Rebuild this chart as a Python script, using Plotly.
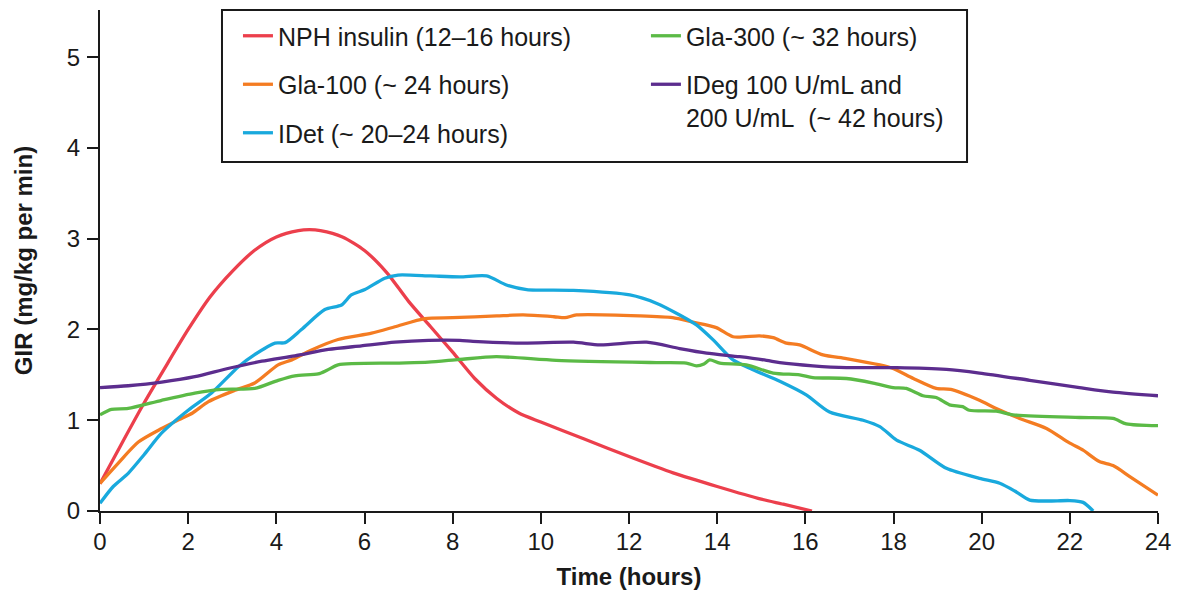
import plotly.graph_objects as go

# ---------------- data ----------------
nph_x = [0, 0.5, 1, 1.5, 2, 2.5, 3, 3.5, 4, 4.5, 4.75, 5, 5.5, 6, 6.5, 7, 7.5, 8, 8.5, 9, 9.5, 10,
         11, 12, 13, 14, 15, 15.5, 16.15]
nph_y = [0.30, 0.75, 1.19, 1.60, 2.00, 2.36, 2.64, 2.87, 3.02, 3.09, 3.10, 3.09, 3.02, 2.87, 2.63,
         2.31, 2.03, 1.75, 1.46, 1.24, 1.08, 0.98, 0.79, 0.60, 0.42, 0.27, 0.13, 0.075, 0.0]

gla100_x = [0, 0.4, 0.87, 1.4, 1.85, 2.1, 2.46, 3.06, 3.51, 4.04, 4.35, 4.8, 5.4, 6.16, 6.69, 7.37,
            8.0, 9.0, 9.6, 10.3, 10.55, 10.81, 12.24, 12.99, 13.45, 13.98, 14.36, 14.96, 15.27,
            15.57, 15.87, 16.4, 16.93, 17.69, 17.99, 18.45, 18.97, 19.3, 19.95, 20.33, 20.86,
            21.47, 21.99, 22.3, 22.67, 22.98, 23.36, 24.0]
gla100_y = [0.305, 0.52, 0.76, 0.91, 1.02, 1.08, 1.205, 1.33, 1.41, 1.61, 1.665, 1.775, 1.89, 1.96,
            2.03, 2.12, 2.13, 2.15, 2.16, 2.14, 2.13, 2.16, 2.15, 2.13, 2.08, 2.02, 1.92, 1.93, 1.91,
            1.85, 1.83, 1.72, 1.68, 1.61, 1.57, 1.46, 1.35, 1.34, 1.22, 1.13, 1.02, 0.91, 0.75,
            0.67, 0.545, 0.50, 0.38, 0.175]

idet_x = [0, 0.3, 0.64, 1.0, 1.4, 2.0, 2.53, 3.14, 3.5, 3.97, 4.2, 4.57, 5.1, 5.48, 5.7, 6.01, 6.46,
          6.76, 7.5, 8.16, 8.77, 9.22, 9.68, 10.74, 12.02, 12.62, 13.15, 13.53, 13.91, 14.36, 14.8,
          15.42, 16.02, 16.55, 17.31, 17.69, 18.07, 18.59, 19.2, 19.95, 20.41, 20.75, 21.09, 21.5,
          22.0, 22.3, 22.53]
idet_y = [0.085, 0.27, 0.415, 0.62, 0.86, 1.11, 1.30, 1.59, 1.72, 1.85, 1.855, 2.0, 2.22, 2.27,
          2.38, 2.44, 2.565, 2.60, 2.59, 2.58, 2.59, 2.49, 2.44, 2.43, 2.38, 2.29, 2.16, 2.05,
          1.885, 1.665, 1.56, 1.43, 1.28, 1.09, 1.00, 0.93, 0.78, 0.67, 0.47, 0.36, 0.305, 0.22,
          0.12, 0.11, 0.115, 0.095, 0.0]

gla300_x = [0, 0.26, 0.64, 1.4, 2.15, 2.76, 3.51, 4.04, 4.42, 4.95, 5.15, 5.4, 6.69, 7.45, 8.16,
            8.99, 10.35, 12.62, 13.3, 13.53, 13.7, 13.83, 14.06, 14.66, 15.27, 15.87, 16.17, 16.93,
            17.54, 17.99, 18.29, 18.67, 18.97, 19.27, 19.57, 19.72, 20.33, 20.71, 22.22, 22.98,
            23.28, 24.0]
gla300_y = [1.06, 1.12, 1.13, 1.22, 1.30, 1.34, 1.35, 1.44, 1.49, 1.51, 1.55, 1.61, 1.63, 1.64,
            1.67, 1.70, 1.66, 1.635, 1.63, 1.60, 1.62, 1.665, 1.63, 1.61, 1.52, 1.50, 1.47, 1.46,
            1.41, 1.36, 1.35, 1.27, 1.25, 1.17, 1.15, 1.11, 1.10, 1.06, 1.03, 1.02, 0.96, 0.94]

ideg_x = [0, 0.64, 1.4, 2.15, 2.9, 3.67, 4.42, 5.18, 5.93, 6.69, 7.45, 8.16, 8.46, 9.6, 10.74,
          11.34, 12.4, 13.15, 13.76, 14.51, 15.12, 15.42, 16.17, 16.93, 18.07, 19.2, 19.95, 21.09,
          22.22, 22.98, 24.0]
ideg_y = [1.36, 1.38, 1.42, 1.48, 1.57, 1.65, 1.71, 1.78, 1.82, 1.86, 1.88, 1.88, 1.87, 1.85,
          1.86, 1.83, 1.86, 1.79, 1.74, 1.70, 1.66, 1.635, 1.60, 1.58, 1.58, 1.56, 1.52, 1.44,
          1.36, 1.31, 1.27]

x_ticks = [0, 2, 4, 6, 8, 10, 12, 14, 16, 18, 20, 22, 24]
y_ticks = [0, 1, 2, 3, 4, 5]

series = [
    ("NPH insulin (12\u201316 hours)", nph_x, nph_y, "#EC3F4C", "legend"),
    ("Gla-100 (~ 24 hours)", gla100_x, gla100_y, "#F47C22", "legend"),
    ("IDet (~ 20\u201324 hours)", idet_x, idet_y, "#19A9DD", "legend"),
    ("Gla-300 (~ 32 hours)", gla300_x, gla300_y, "#5BBA46", "legend2"),
    ("IDeg 100 U/mL and<br>200 U/mL\u00a0\u00a0(~ 42 hours)", ideg_x, ideg_y, "#5C2D8E", "legend2"),
]

FONT = "Liberation Sans, Arial, Helvetica, sans-serif"

fig = go.Figure()
for name, xs, ys, col, lg in series:
    fig.add_trace(go.Scatter(
        x=xs, y=ys, mode="lines", name=name, legend=lg, legendgroup=name,
        line=dict(color=col, width=3.3, shape="spline", smoothing=0.7),
    ))

legend_common = dict(
    bgcolor="rgba(0,0,0,0)", borderwidth=0, orientation="v",
    font=dict(family=FONT, size=25, color="#1a1a1a"),
    tracegroupgap=13, xanchor="left", yanchor="top", valign="top",
)

fig.update_layout(
    width=1178, height=593,
    margin=dict(l=100, r=20, t=10, b=82),
    paper_bgcolor="white", plot_bgcolor="white",
    font=dict(family=FONT, size=24, color="#1a1a1a"),
    showlegend=True,
    legend=dict(x=0.1304, y=0.994, **legend_common),
    legend2=dict(x=0.516, y=0.994, **legend_common),
    xaxis=dict(
        range=[0, 24], tickmode="array", tickvals=x_ticks, automargin=False,
        showline=True, linecolor="#1a1a1a", linewidth=2,
        ticks="outside", ticklen=11, tickwidth=2, tickcolor="#1a1a1a",
        showgrid=False, zeroline=False,
        tickfont=dict(size=24), ticklabelstandoff=-3,
        title=dict(text="Time (hours)", font=dict(size=24, weight="bold"), standoff=14),
    ),
    yaxis=dict(
        range=[0, 5.52], tickmode="array", tickvals=y_ticks, automargin=False,
        showline=True, linecolor="#1a1a1a", linewidth=2,
        ticks="outside", ticklen=11, tickwidth=2, tickcolor="#1a1a1a",
        showgrid=False, zeroline=False,
        tickfont=dict(size=24), ticklabelstandoff=2,
        title=dict(text="GIR (mg/kg per min)", font=dict(size=24, weight="bold"), standoff=27),
    ),
    shapes=[dict(
        type="rect", xref="paper", yref="paper",
        x0=0.1153, x1=0.8195, y0=0.6966, y1=1.0,
        line=dict(color="#1a1a1a", width=2), fillcolor="rgba(0,0,0,0)", layer="above",
    )],
)

fig.write_html(
    "out.html",
    config={"displayModeBar": False},
    post_script="document.body.style.margin='0';document.body.style.padding='0';",
)
